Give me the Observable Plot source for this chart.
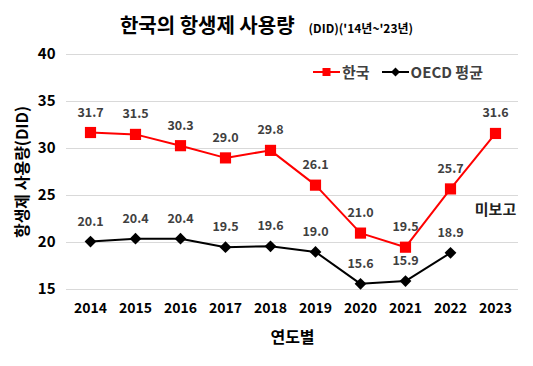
<!DOCTYPE html>
<html><head><meta charset="utf-8">
<script src="https://cdn.jsdelivr.net/npm/d3@7"></script>
<script src="https://cdn.jsdelivr.net/npm/@observablehq/plot@0.6"></script>
<style>
body{margin:0;background:#fff;font-family:"Noto Sans CJK KR","Noto Sans",sans-serif;}
#wrap{position:relative;width:533px;height:366px;}
#title{position:absolute;left:0;top:10px;width:533px;text-align:center;font-weight:bold;color:#000;}
#title .main{font-size:20px;}
#title .sub{font-size:12px;margin-left:14px;}
#legend{position:absolute;left:313px;top:61px;display:flex;align-items:center;font-size:15px;font-weight:bold;color:#404040;}
#legend span{margin-right:12px;margin-left:2px;}
</style></head>
<body><div id="wrap">
<div id="title"><span class="main">한국의 항생제 사용량</span><span class="sub">(DID)('14년~'23년)</span></div>
<div id="legend"></div>
</div>
<script>
const years = ["2014","2015","2016","2017","2018","2019","2020","2021","2022","2023"];
const korea = [31.7,31.5,30.3,29.0,29.8,26.1,21.0,19.5,25.7,31.6];
const oecd = [20.1,20.4,20.4,19.5,19.6,19.0,15.6,15.9,18.9,null];
const yTicks = [15,20,25,30,35,40];
const seriesNames = ["한국","OECD 평균"];
const noteText = "미보고";

const kData = years.map((y,i)=>({year:y,value:korea[i]}));
const oData = years.map((y,i)=>({year:y,value:oecd[i]})).filter(d=>d.value!=null);
const noteData = [{year:years[9], value:23.4, text:noteText}];

const fnt = '"Noto Sans CJK KR","Noto Sans",sans-serif';
const chart = Plot.plot({
  width:533, height:366,
  marginLeft:66, marginRight:15, marginTop:54, marginBottom:77,
  style:{fontFamily:fnt, background:"transparent"},
  x:{type:"point", domain:years, padding:0.5},
  y:{domain:[15,40]},
  marks:[
    Plot.gridY(yTicks,{stroke:"#d9d9d9", strokeOpacity:1, strokeWidth:1}),
    Plot.axisY(yTicks,{tickSize:0, tickPadding:11, fontSize:15, fontWeight:"bold", fill:"#000",
      label:"항생제 사용량(DID)", labelAnchor:"center", labelArrow:false, labelOffset:50}),
    Plot.axisX({tickSize:0, tickPadding:14, fontSize:14, fontWeight:"bold", fill:"#000",
      label:"연도별", labelAnchor:"center", labelArrow:false, labelOffset:53}),
    Plot.line(kData,{x:"year", y:"value", stroke:"#ff0000", strokeWidth:2}),
    Plot.line(oData,{x:"year", y:"value", stroke:"#000", strokeWidth:2}),
    Plot.dot(kData,{x:"year", y:"value", symbol:"square", r:6.3, fill:"#ff0000", stroke:"none"}),
    Plot.dot(oData,{x:"year", y:"value", symbol:"diamond2", r:5.3, fill:"#000", stroke:"none"}),
    Plot.text(kData,{x:"year", y:"value", text:d=>d.value.toFixed(1), dy:-20, fontSize:12.5, fontWeight:"bold", fill:"#404040"}),
    Plot.text(oData,{x:"year", y:"value", text:d=>d.value.toFixed(1), dy:-20, fontSize:12.5, fontWeight:"bold", fill:"#404040"}),
    Plot.text(noteData,{x:"year", y:"value", text:"text", fontSize:15, fontWeight:"bold", fill:"#222"})
  ]
});
chart.style.position="absolute"; chart.style.left="0"; chart.style.top="0";
const wrap = document.getElementById("wrap");
wrap.insertBefore(chart, wrap.firstChild);
chart.querySelectorAll("g[aria-label='y-axis label'], g[aria-label='x-axis label']").forEach(g=>{
  g.setAttribute("font-size","16"); g.setAttribute("font-weight","bold"); g.setAttribute("fill","#000");
});
const leg = document.getElementById("legend");
const sym = (color, shape) => {
  const s = d3.create("svg").attr("width",27).attr("height",14);
  s.append("line").attr("x1",0).attr("x2",27).attr("y1",7).attr("y2",7).attr("stroke",color).attr("stroke-width",2);
  if(shape==="square") s.append("rect").attr("x",9.5).attr("y",3).attr("width",8).attr("height",8).attr("fill",color);
  else s.append("path").attr("d","M13.5,2.5L18,7L13.5,11.5L9,7Z").attr("fill",color);
  return s.node();
};
[["#ff0000","square"],["#000","diamond"]].forEach(([c,sh],i)=>{
  leg.appendChild(sym(c,sh));
  const sp=document.createElement("span"); sp.textContent=seriesNames[i]; leg.appendChild(sp);
});
</script></body></html>
